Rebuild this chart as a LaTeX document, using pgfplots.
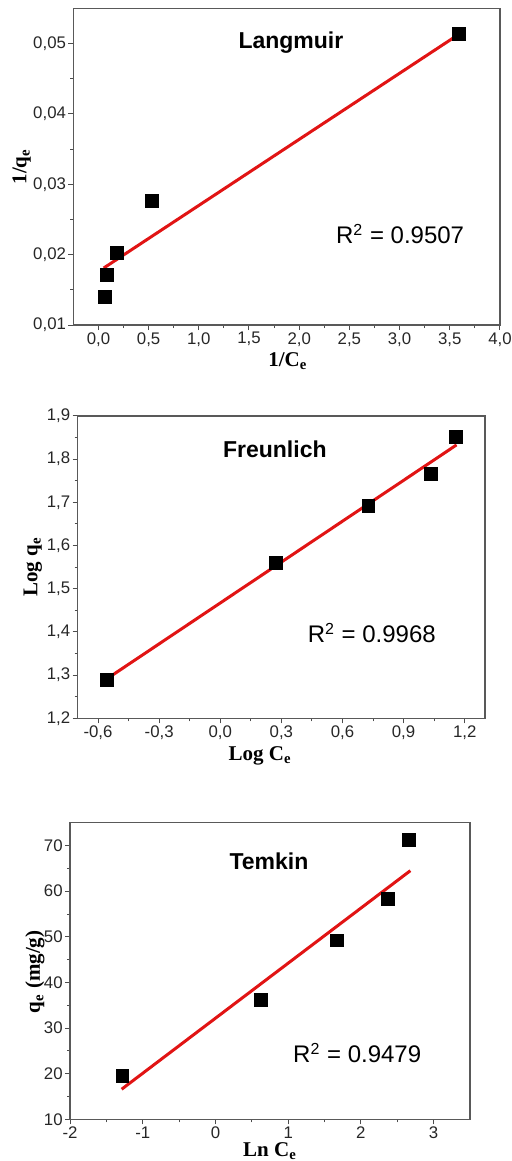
\documentclass[border=0pt]{standalone}
\usepackage{fontspec}
\setmainfont{Liberation Serif}
\setsansfont{Liberation Sans}
\usepackage{pgfplots}
\pgfplotsset{compat=1.18}
\definecolor{fitred}{RGB}{225,20,20}
\tikzset{
  ttl/.style={font=\sffamily\bfseries\fontsize{11.5}{13}\selectfont},
  rsq/.style={font=\sffamily\fontsize{12}{14}\selectfont},
}
\pgfplotsset{
  iso/.style={
    scale only axis,
    axis line style={black!65, line width=0.6pt},
    tick style={black!70, line width=0.5pt},
    tick align=outside,
    xtick pos=bottom, ytick pos=left,
    major tick length=2.5pt, minor tick length=1.5pt,
    minor x tick num=1, minor y tick num=1,
    tick label style={font=\sffamily\fontsize{8.4}{10}\selectfont, text=black!85, inner sep=1pt},
    /pgf/number format/assume math mode=true,
    /pgf/number format/use comma,
    label style={font=\bfseries\fontsize{10.5}{12}\selectfont, anchor=center, inner sep=0pt},
    clip=false,
    scaled ticks=false,
  },
  pts/.style={only marks, mark=square*, mark size=3.2pt, black},
  fit/.style={fitred, line width=1.5pt, no marks},
}
\begin{document}
\begin{tikzpicture}
\path[use as bounding box] (0,0) rectangle (256pt,-580.5pt);
% Langmuir
\begin{axis}[iso, at={(36.67pt,-162.5pt)}, anchor=south west,
  width=213.3pt, height=158.3pt,
  xmin=-0.25, xmax=4.0, ymin=0.01, ymax=0.055,
  xtick={0,0.5,1,1.5,2,2.5,3,3.5,4},
  ytick={0.01,0.02,0.03,0.04,0.05},
  xticklabel style={/pgf/number format/.cd, fixed, fixed zerofill, precision=1},
  yticklabel style={/pgf/number format/.cd, fixed, fixed zerofill, precision=2},
  xlabel={1/C\textsubscript{e}}, ylabel={1/q\textsubscript{e}},
  xlabel style={at={(axis description cs:0.503,-0.113)}},
  ylabel style={at={(axis description cs:-0.121,0.5)}},
]
\addplot[pts] coordinates {(0.063,0.0140) (0.086,0.0171) (0.18,0.0203) (0.53,0.0276) (3.59,0.0514)};
\addplot[fit] coordinates {(0.053,0.0181) (3.62,0.0516)};
\node[ttl] at (rel axis cs:0.51,0.891) {Langmuir};
\node[rsq] at (rel axis cs:0.766,0.287) {R\textsuperscript{2} = 0.9507};
\end{axis}
% Freundlich
\begin{axis}[iso, at={(38.83pt,-359.17pt)}, anchor=south west,
  width=203.7pt, height=151.2pt,
  xmin=-0.7, xmax=1.3, ymin=1.2, ymax=1.9,
  xtick={-0.6,-0.3,0,0.3,0.6,0.9,1.2},
  ytick={1.2,1.3,1.4,1.5,1.6,1.7,1.8,1.9},
  xticklabel style={/pgf/number format/.cd, fixed, fixed zerofill, precision=1},
  yticklabel style={/pgf/number format/.cd, fixed, fixed zerofill, precision=1},
  xlabel={Log C\textsubscript{e}}, ylabel={Log q\textsubscript{e}},
  xlabel style={at={(axis description cs:0.448,-0.124)}},
  ylabel style={at={(axis description cs:-0.11,0.5)}},
]
\addplot[pts] coordinates {(-0.555,1.289) (0.274,1.559) (0.727,1.692) (1.033,1.765) (1.157,1.852)};
\addplot[fit] coordinates {(-0.555,1.292) (1.16,1.833)};
\node[ttl] at (rel axis cs:0.484,0.89) {Freunlich};
\node[rsq] at (rel axis cs:0.722,0.282) {R\textsuperscript{2} = 0.9968};
\end{axis}
% Temkin
\begin{axis}[iso, at={(35pt,-559.67pt)}, anchor=south west,
  width=200pt, height=148.3pt,
  xmin=-2, xmax=3.5, ymin=10, ymax=75,
  xtick={-2,-1,0,1,2,3},
  ytick={10,20,30,40,50,60,70},
  xlabel={Ln C\textsubscript{e}}, ylabel={q\textsubscript{e} (mg/g)},
  xlabel style={at={(axis description cs:0.5,-0.108)}},
  ylabel style={at={(axis description cs:-0.0875,0.497)}},
]
\addplot[pts] coordinates {(-1.28,19.5) (0.628,36.2) (1.67,49.2) (2.37,58.3) (2.665,71.2)};
\addplot[fit] coordinates {(-1.29,16.6) (2.68,64.5)};
\node[ttl] at (rel axis cs:0.4975,0.871) {Temkin};
\node[rsq] at (rel axis cs:0.718,0.224) {R\textsuperscript{2} = 0.9479};
\end{axis}
\end{tikzpicture}
\end{document}
